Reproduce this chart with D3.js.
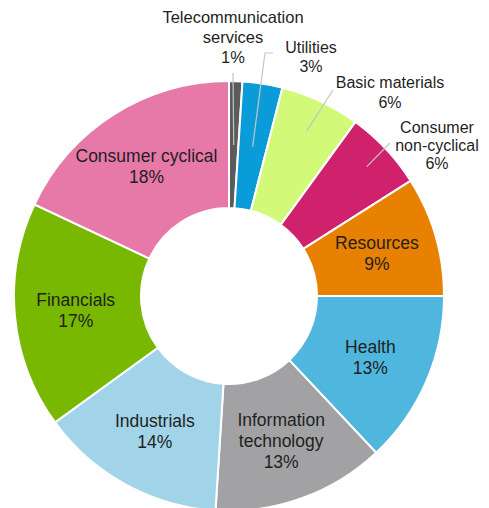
<!DOCTYPE html>
<html>
<head>
<meta charset="utf-8">
<script src="https://cdn.jsdelivr.net/npm/d3@7"></script>
<style>
  html, body { margin: 0; padding: 0; background: #fff; }
  svg text { font-family: "Liberation Sans", Arial, sans-serif; fill: #1f1f1f; }
</style>
</head>
<body>
<div id="chart"></div>
<script>
// ── Data ──────────────────────────────────────────────────────────────────────
const sectors = [
  'Telecommunication services', 'Utilities', 'Basic materials', 'Consumer non-cyclical',
  'Resources', 'Health', 'Information technology', 'Industrials', 'Financials', 'Consumer cyclical'
];
const shares = [1, 3, 6, 6, 9, 13, 13, 14, 17, 18];
const colors = [
  '#5b5b5b', '#0a9bd9', '#d2f978', '#cf216c', '#e88000',
  '#4fb6dd', '#a2a2a4', '#a1d4e8', '#79b800', '#e779a8'
];

// label lines as printed
const labelLines = [
  ['Telecommunication', 'services'], ['Utilities'], ['Basic materials'], ['Consumer', 'non-cyclical'],
  ['Resources'], ['Health'], ['Information', 'technology'], ['Industrials'], ['Financials'], ['Consumer cyclical']
];

// ── Layout ────────────────────────────────────────────────────────────────────
const W = 489, H = 508;
const cx = 229, cy = 296;
const rOuter = 215, rInner = 88;

// outside labels: text centre, first line y, line gap, font size, leader start, leader radius
const outside = {
  0: { x: 233, y: 17, gap: 20, fs: 16.5, path: [[233, 73]], r: 151 },
  1: { x: 311, y: 47, gap: 19, fs: 16, path: [[273, 53], [265, 53]], r: 151 },
  2: { x: 390, y: 82, gap: 20, fs: 16, path: [[333, 90]], r: 182 },
  3: { x: 437, y: 127, gap: 18, fs: 16, path: [[390, 143]], r: 189 }
};

const svg = d3.select('#chart').append('svg')
  .attr('width', W)
  .attr('height', H);

const g = svg.append('g').attr('transform', `translate(${cx},${cy})`);

const pie = d3.pie().sort(null).value(d => d)(shares);
const arc = d3.arc().innerRadius(rInner).outerRadius(rOuter);
const labelArc = d3.arc().innerRadius(154).outerRadius(154);

g.selectAll('path.slice')
  .data(pie)
  .enter().append('path')
  .attr('class', 'slice')
  .attr('d', arc)
  .attr('fill', (d, i) => colors[i])
  .attr('stroke', '#ffffff')
  .attr('stroke-width', 2);

// ── Leader lines ──────────────────────────────────────────────────────────────
Object.keys(outside).forEach(k => {
  const i = +k;
  const o = outside[i];
  const a = pie[i];
  const mid = (a.startAngle + a.endAngle) / 2;
  const end = [cx + o.r * Math.sin(mid), cy - o.r * Math.cos(mid)];
  const pts = o.path.concat([end]);
  svg.append('path')
    .attr('d', d3.line()(pts))
    .attr('fill', 'none')
    .attr('stroke', '#c4c4c4')
    .attr('stroke-width', 1.2);
});

// ── Labels ────────────────────────────────────────────────────────────────────
pie.forEach((d, i) => {
  const lines = labelLines[i].concat([shares[i] + '%']);
  if (outside[i]) {
    const o = outside[i];
    const t = svg.append('text')
      .attr('text-anchor', 'middle')
      .attr('font-size', o.fs);
    lines.forEach((ln, j) => {
      t.append('tspan')
        .attr('x', o.x)
        .attr('y', o.y + j * o.gap)
        .attr('dy', '0.35em')
        .text(ln);
    });
  } else {
    const [lx, ly] = labelArc.centroid(d);
    const gap = 21;
    const y0 = ly - (lines.length - 1) * gap / 2;
    const t = g.append('text')
      .attr('text-anchor', 'middle')
      .attr('font-size', 17.5);
    lines.forEach((ln, j) => {
      t.append('tspan')
        .attr('x', lx)
        .attr('y', y0 + j * gap)
        .attr('dy', '0.35em')
        .text(ln);
    });
  }
});
</script>
</body>
</html>
